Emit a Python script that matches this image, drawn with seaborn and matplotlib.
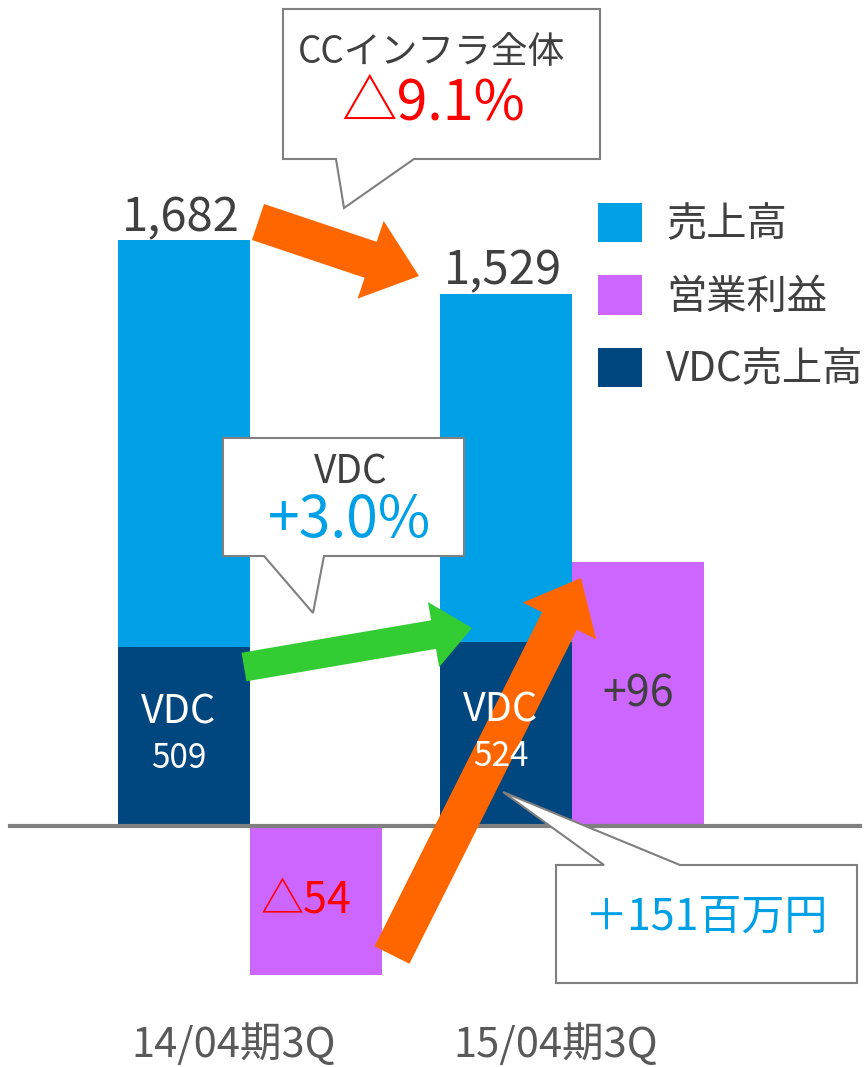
import matplotlib
matplotlib.use("Agg")
import matplotlib.pyplot as plt
import matplotlib.transforms as mtrans
from matplotlib.patches import FancyArrow, Polygon, Patch
import seaborn as sns
import pandas as pd

# ---------------- data ----------------
periods = ["14/04期3Q", "15/04期3Q"]
sales = [1682, 1529]
vdc_sales = [509, 524]
op_profit = [-54, 96]
sales_labels = ["1,682", "1,529"]
vdc_labels = ["509", "524"]
profit_labels = ["△54", "+96"]
series = ["売上高", "営業利益", "VDC売上高"]
vdc_name = "VDC"
callout_total = ["CCインフラ全体", "△9.1%"]
callout_vdc = ["VDC", "+3.0%"]
callout_profit = "＋151百万円"

# ---------------- style ----------------
C_SALES = "#00A0E6"
C_VDC = "#00467F"
C_PROFIT = "#CC66FF"
C_ORANGE = "#FF6600"
C_GREEN = "#33CC33"
C_TEXT = "#404040"
C_AXIS = "#7F7F7F"
C_RED = "#FF0000"

plt.rcParams['font.family'] = ['Noto Sans CJK JP', 'DejaVu Sans']

W, H = 865, 1067
fig = plt.figure(figsize=(W / 100, H / 100), dpi=100)
ax = fig.add_axes([0, 0, 1, 1])
ax2 = ax.twinx()

sales_df = pd.DataFrame({"期": periods, "値": sales, "系列": series[0]})
vdc_df = pd.DataFrame({"期": periods, "値": vdc_sales, "系列": series[0]})
profit_df = pd.DataFrame({"期": periods, "値": op_profit, "系列": series[1]})

common = dict(x="期", y="値", hue="系列", hue_order=series[:2], order=periods,
              width=0.82, dodge=True, errorbar=None, legend=False, linewidth=0,
              saturation=1)
sns.barplot(data=sales_df, palette={series[0]: C_SALES, series[1]: C_PROFIT}, ax=ax, **common)
sns.barplot(data=vdc_df, palette={series[0]: C_VDC, series[1]: C_PROFIT}, ax=ax, **common)
sns.barplot(data=profit_df, palette={series[0]: C_SALES, series[1]: C_PROFIT}, ax=ax2, **common)

ax.set_xlim(-250 / 322, (W - 250) / 322)
ax.set_ylim(-700, 2375)
ax2.set_ylim(-87.4, 300)
ax.set_axis_off()
ax2.set_axis_off()

ax2.axhline(0, xmin=10 / W, xmax=860 / W, color=C_AXIS, lw=3, zorder=5)

# pixel transform (origin top-left)
T = mtrans.Affine2D().scale(1 / W, -1 / H).translate(0, 1) + fig.transFigure

bars_sales = sorted(ax.patches[0:2], key=lambda b: b.get_x())
bars_vdc = sorted(ax.patches[2:4], key=lambda b: b.get_x())
bars_profit = sorted(ax2.patches, key=lambda b: b.get_x())

def cx(b):
    return b.get_x() + b.get_width() / 2

# sales value labels
for b, v, lab in zip(bars_sales, sales, sales_labels):
    tr = mtrans.offset_copy(ax.transData, fig=fig, x=-3, y=9, units='dots')
    fig.text(cx(b), v, lab, transform=tr, ha='center', va='baseline',
             fontsize=34, color=C_TEXT, zorder=10)

# vdc labels
for b, v, lab in zip(bars_vdc, vdc_sales, vdc_labels):
    tr1 = mtrans.offset_copy(ax.transData, fig=fig, x=-5, y=23, units='dots')
    tr2 = mtrans.offset_copy(ax.transData, fig=fig, x=-5, y=-23, units='dots')
    fig.text(cx(b), v / 2, vdc_name, transform=tr1, ha='center', va='center',
             fontsize=28.5, color='white', zorder=10)
    fig.text(cx(b), v / 2, lab, transform=tr2, ha='center', va='center',
             fontsize=24, color='white', zorder=10)

# profit labels
for b, v, lab in zip(bars_profit, op_profit, profit_labels):
    col = C_RED if v < 0 else C_TEXT
    dx = -10 if v < 0 else 0
    tr = mtrans.offset_copy(ax2.transData, fig=fig, x=dx, y=0, units='dots')
    fig.text(cx(b), v / 2, lab, transform=tr, ha='center', va='center',
             fontsize=31, color=col, zorder=10)

# category labels
bt = mtrans.blended_transform_factory(ax.transData, T)
for i, p in enumerate(periods):
    fig.text(i - 0.05, 1045, p, transform=bt, ha='center', va='center',
             fontsize=30, color="#595959", zorder=10)

# arrows
def arrow(tail, tip, width, head_w, head_l, color):
    a = FancyArrow(tail[0], tail[1], tip[0] - tail[0], tip[1] - tail[1],
                   width=width, head_width=head_w, head_length=head_l,
                   length_includes_head=True, transform=T, color=color,
                   lw=0, zorder=5)
    fig.add_artist(a)

arrow((258, 222), (419, 276), 38, 82, 51, C_ORANGE)
arrow((244, 667), (472, 628), 29, 66, 39, C_GREEN)
arrow((392, 955), (581, 578), 39, 82, 48, C_ORANGE)

# callouts
def callout(verts):
    fig.add_artist(Polygon(verts, closed=True, fc='white', ec=C_AXIS, lw=1.5,
                           transform=T, zorder=4))

callout([(283, 9), (600, 9), (600, 159), (414, 159), (344, 208), (336, 159), (283, 159)])
callout([(223, 438), (464, 438), (464, 556), (324, 556), (313, 613), (264, 556), (223, 556)])
callout([(556, 865), (604, 865), (503, 792), (680, 865), (857, 865), (857, 983), (556, 983)])

fig.text(432, 53, callout_total[0], transform=T, ha='center', va='center', fontsize=26.5, color=C_TEXT, zorder=10)
fig.text(433, 104, callout_total[1], transform=T, ha='center', va='center', fontsize=40, color=C_RED, zorder=10)
fig.text(351, 473, callout_vdc[0], transform=T, ha='center', va='center', fontsize=28, color=C_TEXT, zorder=10)
fig.text(350, 521, callout_vdc[1], transform=T, ha='center', va='center', fontsize=41, color=C_SALES, zorder=10)
fig.text(706, 918, callout_profit, transform=T, ha='center', va='center', fontsize=31, color=C_SALES, zorder=10)

# legend
handles = [Patch(fc=C_SALES, lw=0), Patch(fc=C_PROFIT, lw=0), Patch(fc=C_VDC, lw=0)]
fs = 29
fsp = fs * 100 / 72
fig.legend(handles, series, loc='upper left', bbox_to_anchor=(598 / W, 1 - 203 / H),
           frameon=False, borderpad=0, borderaxespad=0, fontsize=fs,
           handlelength=44 / fsp, handleheight=45 / fsp, handletextpad=24 / fsp,
           labelspacing=0.75, labelcolor=C_TEXT)

fig.savefig("out.png", dpi=100)
